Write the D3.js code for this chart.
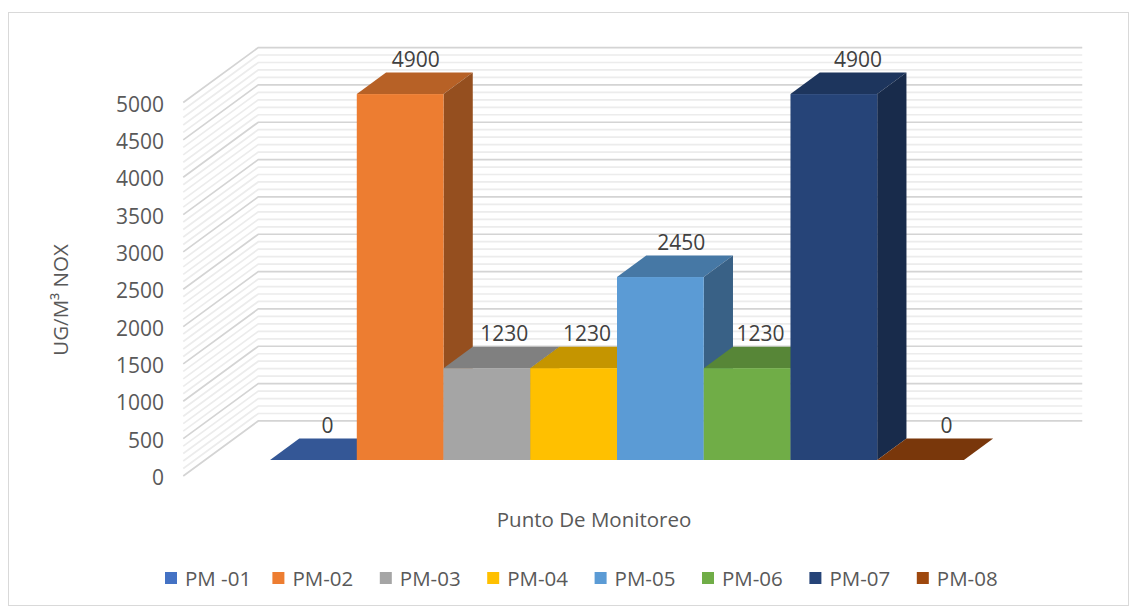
<!DOCTYPE html>
<html>
<head>
<meta charset="utf-8">
<script src="https://cdn.jsdelivr.net/npm/d3@7"></script>
<style>
  html, body { margin: 0; padding: 0; background: #fff; }
  svg { display: block; }
  text { font-family: "Open Sans", "Noto Sans", sans-serif; }
</style>
</head>
<body>
<svg id="chart" width="1138" height="608"></svg>
<script>
// ---- data ----
const series = ["PM -01", "PM-02", "PM-03", "PM-04", "PM-05", "PM-06", "PM-07", "PM-08"];
const values = [0, 4900, 1230, 1230, 2450, 1230, 4900, 0];
const yTickValues = [0, 500, 1000, 1500, 2000, 2500, 3000, 3500, 4000, 4500, 5000];
const minorStep = 100;
const xTitle = "Punto De Monitoreo";
const yTitle = "UG/M³ NOX";
const palette = ["#4472c4", "#ed7d31", "#a5a5a5", "#ffc000", "#5b9bd5", "#70ad47", "#264478", "#9e480e"];

// ---- layout ----
const W = 1138, H = 608;
const svg = d3.select("#chart");

// 3D projection constants (depth vector of the whole floor)
const DX = 75, DY = 55;
const Z_FRONT = 0.29, Z_BACK = 0.68;

const x = d3.scaleBand().domain(series).range([205, 1029]).paddingOuter(0.75).paddingInner(0);
const y = d3.scaleLinear().domain([0, 5000]).range([460, 460 - 373.4]);
const color = d3.scaleOrdinal().domain(series).range(palette);

function P(X, v, z) {
  const dz = z - Z_FRONT;
  return [X + dz * DX, y(v) - dz * DY];
}

// chart border
svg.append("rect").attr("x", 8.5).attr("y", 12.5).attr("width", 1120).attr("height", 593)
  .attr("fill", "#fff").attr("stroke", "#d9d9d9").attr("stroke-width", 1);

// gridlines (minor then major) on side wall + back wall
const X0 = 205, X1 = 1029;
const minorVals = d3.range(0, 5000 + 1, minorStep).filter(v => !yTickValues.includes(v));
const line = d3.line();
function gridPath(v) {
  return line([P(X0, v, 0), P(X0, v, 1), P(X1, v, 1)]);
}
svg.append("g").selectAll("path").data(minorVals).join("path")
  .attr("d", gridPath).attr("fill", "none").attr("stroke", "#ececec").attr("stroke-width", 1.7);
svg.append("g").selectAll("path").data(yTickValues).join("path")
  .attr("d", gridPath).attr("fill", "none").attr("stroke", "#d4d4d4").attr("stroke-width", 1.7);

// y tick labels (on front plane of side wall)
svg.append("g").selectAll("text").data(yTickValues).join("text")
  .attr("x", 164)
  .attr("y", d => P(X0, d, 0)[1] + 1)
  .attr("text-anchor", "end").attr("dominant-baseline", "central")
  .attr("font-size", 21).attr("fill", "#595959")
  .text(d => d);

// bars
const bw = x.bandwidth();
const bars = svg.append("g");
series.forEach((s, i) => {
  const v = values[i];
  const c = d3.color(color(s));
  const xl = x(s), xr = xl + bw;
  const g = bars.append("g");
  // top face
  const top = [P(xl, v, Z_FRONT), P(xr, v, Z_FRONT), P(xr, v, Z_BACK), P(xl, v, Z_BACK)];
  const topCol = v === 0 ? c.darker(0.75) : c.darker(0.72);
  g.append("path").attr("d", line(top) + "Z").attr("fill", topCol);
  if (v > 0) {
    // side face
    const side = [P(xr, 0, Z_FRONT), P(xr, v, Z_FRONT), P(xr, v, Z_BACK), P(xr, 0, Z_BACK)];
    g.append("path").attr("d", line(side) + "Z").attr("fill", c.darker(1.3));
    // front face
    g.append("rect").attr("x", xl).attr("y", y(v)).attr("width", bw).attr("height", y(0) - y(v))
      .attr("fill", c);
  }
});

// data labels
const labels = svg.append("g");
series.forEach((s, i) => {
  const v = values[i];
  const t = labels.append("text")
    .attr("font-size", 21).attr("fill", "#404040").attr("text-anchor", "middle")
    .text(v);
  const w = t.node().getComputedTextLength();
  let cx = x(s) + bw / 2 + 14 + 1.7 * i;
  if (i < series.length - 1 && values[i + 1] > v) {
    const limit = x(series[i + 1]) - 6;
    if (cx + w / 2 > limit) cx = limit - w / 2;
  }
  const by = P(0, v, Z_BACK)[1] - 6;
  t.attr("x", cx).attr("y", by);
});

// axis titles
svg.append("text").attr("x", 594).attr("y", 527).attr("text-anchor", "middle")
  .attr("font-size", 20.5).attr("fill", "#595959").text(xTitle);
svg.append("text").attr("transform", "translate(68,300) rotate(-90)").attr("text-anchor", "middle")
  .attr("font-size", 20.5).attr("fill", "#595959").text(yTitle);

// legend
const leg = svg.append("g");
series.forEach((s, i) => {
  const lx = 165 + i * 107.4;
  leg.append("rect").attr("x", lx).attr("y", 572).attr("width", 12).attr("height", 12).attr("fill", color(s));
  leg.append("text").attr("x", lx + 20).attr("y", 578).attr("dominant-baseline", "central")
    .attr("font-size", 20.5).attr("fill", "#595959").text(s);
});
</script>
</body>
</html>
